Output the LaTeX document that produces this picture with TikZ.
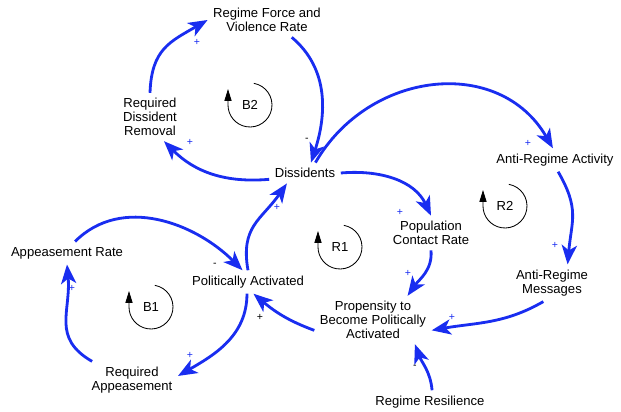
\documentclass[tikz,border=0pt]{standalone}
\usepackage{fontspec}
\setmainfont{Liberation Sans}
\usepackage{tikz}
\usetikzlibrary{arrows.meta}
\definecolor{linkblue}{RGB}{25,45,240}

\tikzset{
  var/.style={font=\fontsize{9.3}{9.8}\selectfont, align=center, inner sep=1pt, outer sep=3pt},
  link/.style={draw=linkblue, line width=2pt, -{Stealth[length=4.8mm,width=3.8mm,inset=1.3mm]}},
  plussign/.style={text=linkblue, font=\fontsize{7.5}{7.5}\selectfont, inner sep=0pt},
  minussign/.style={font=\fontsize{7.5}{7.5}\selectfont, inner sep=0pt},
  looplabel/.style={font=\fontsize{9.3}{9.8}\selectfont, inner sep=1pt},
  looparrow/.style={line width=0.6pt, -{Triangle[length=3mm,width=1.8mm]}},
}

\begin{document}
\begin{tikzpicture}[x=0.025cm, y=0.025cm]
\useasboundingbox (0,0) rectangle (621,-412);

% Variables
\node[var] (rfv) at (267,-20) {Regime Force and\\Violence Rate};
\node[var] (rdr) at (150,-117) {Required\\Dissident\\Removal};
\node[var] (dis) at (305,-173) {Dissidents};
\node[var] (ara) at (555,-160) {Anti-Regime Activity};
\node[var] (pcr) at (431,-233) {Population\\Contact Rate};
\node[var] (apr) at (67,-253) {Appeasement Rate};
\node[var] (pa) at (248,-282) {Politically Activated};
\node[var] (ra) at (132,-380) {Required\\Appeasement};
\node[var] (prop) at (373,-320) {Propensity to\\Become Politically\\Activated};
\node[var] (arm) at (552,-283) {Anti-Regime\\Messages};
\node[var] (rr) at (430,-402) {Regime Resilience};

% Causal links
\draw[link] (rdr.north) to[out=88,in=210,looseness=1.2] (rfv.west);
\draw[link] (rfv.-35) to[out=-40,in=72] (dis.60);
\draw[link] (dis.190) to[out=185,in=-45] (rdr.-60);
\draw[link] (dis.45) to[out=60,in=120,looseness=1.15] (ara.100);
\draw[link] (dis.east) to[out=5,in=115] (pcr.north);
\draw[link] (pcr.south) to[out=-85,in=55] (prop.35);
\draw[link] (ara.-75) to[out=-60,in=85,looseness=1.2] (arm.50);
\draw[link] (arm.-115) to[out=-150,in=10] (prop.-10);
\draw[link] (rr.80) to[out=95,in=-70] (prop.-30);
\draw[link] (prop.190) to[out=160,in=-40] (pa.-65);
\draw[link] (pa.north) to[out=100,in=-125,looseness=1.2] (dis.-150);
\draw[link] (pa.-95) to[out=-90,in=30] (ra.5);
\draw[link] (ra.155) to[out=150,in=-85,looseness=1.2] (apr.south);
\draw[link] (apr.55) to[out=45,in=135] (pa.115);

% Polarities
\node[plussign] (s1) at (197,-42) {+};
\node[minussign] (s2) at (307,-140) {-};
\node[plussign] (s3) at (190,-142) {+};
\node[plussign] (s4) at (528,-143) {+};
\node[plussign] (s5) at (400,-212) {+};
\node[plussign] (s6) at (408,-273) {+};
\node[plussign] (s7) at (555,-245) {+};
\node[plussign] (s8) at (452,-317) {+};
\node[minussign] (s9) at (415,-367) {-};
\node[minussign] (s10) at (260,-317) {+};
\node[plussign] (s11) at (277,-207) {+};
\node[plussign] (s12) at (190,-355) {+};
\node[plussign] (s13) at (72,-288) {+};
\node[minussign] (s14) at (215,-265) {-};

% Loop markers
\node[looplabel] (b2) at (250,-105) {B2};
\draw[looparrow] (b2.center) ++(80:22) arc[start angle=80, end angle=-180, radius=22] -- ++(0,16);
\node[looplabel] (r2) at (505,-206) {R2};
\draw[looparrow] (r2.center) ++(80:22) arc[start angle=80, end angle=-180, radius=22] -- ++(0,16);
\node[looplabel] (r1) at (340,-247) {R1};
\draw[looparrow] (r1.center) ++(80:22) arc[start angle=80, end angle=-180, radius=22] -- ++(0,16);
\node[looplabel] (b1) at (151,-307) {B1};
\draw[looparrow] (b1.center) ++(80:22) arc[start angle=80, end angle=-180, radius=22] -- ++(0,16);

\end{tikzpicture}
\end{document}
